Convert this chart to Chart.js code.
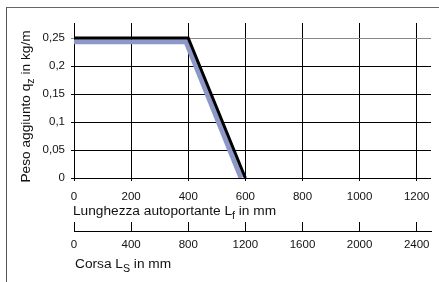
<!DOCTYPE html>
<html><head><meta charset="utf-8">
<script src="https://cdn.jsdelivr.net/npm/chart.js@4/dist/chart.umd.min.js"></script>
<style>
html,body{margin:0;padding:0;background:#fff;}
#wrap{position:relative;width:439px;height:282px;overflow:hidden;}
#frame{position:absolute;left:6px;top:7px;width:500px;height:400px;border-left:1px solid #555;border-top:1px solid #666;}
canvas{position:absolute;left:0;top:0;}
</style></head><body>
<div id="wrap"><div id="frame"></div><canvas id="c" width="439" height="282"></canvas></div>
<script>
// ---- data ----
const lfBlack = [0, 400, 600];          // Lunghezza autoportante Lf (mm)
const qBlack  = [0.25, 0.25, 0];        // Peso aggiunto qz (kg/m)
const lfBlue  = [0, 392, 585];
const qBlue   = [0.2435, 0.2435, 0];

const qTicks  = [0, 0.05, 0.1, 0.15, 0.2, 0.25];
const lfTicks = [0, 200, 400, 600, 800, 1000, 1200];
const lsTicks = [0, 400, 800, 1200, 1600, 2000, 2400];
const qTickLabels  = ['0', '0,05', '0,1', '0,15', '0,2', '0,25'];
const lfTickLabels = ['0', '200', '400', '600', '800', '1000', '1200'];
const lsTickLabels = ['0', '400', '800', '1200', '1600', '2000', '2400'];

const yTitleParts  = [['Peso aggiunto q', false], ['z', true], [' in kg/m', false]];
const x1TitleParts = [['Lunghezza autoportante L', false], ['f', true], [' in mm', false]];
const x2TitleParts = [['Corsa L', false], ['S', true], [' in mm', false]];

// ---- chart ----
const FONT = '"Liberation Sans", Arial, Helvetica, sans-serif';
Chart.defaults.font.family = FONT;
Chart.defaults.color = '#111';
const TITLE_SIZE = 13.7;
const TICK_SIZE = 11.5;

function toPts(xs, ys) { return xs.map((x, i) => ({ x: x, y: ys[i] })); }
function setTicks(values) { return (s) => { s.ticks = values.map(v => ({ value: v })); }; }

function drawParts(ctx, parts, size, x, y, align) {
  const subSize = size * 0.78;
  let total = 0;
  parts.forEach(p => {
    ctx.font = (p[1] ? subSize : size) + 'px ' + FONT;
    total += ctx.measureText(p[0]).width;
  });
  let cx = align === 'center' ? x - total / 2 : x;
  parts.forEach(p => {
    ctx.font = (p[1] ? subSize : size) + 'px ' + FONT;
    ctx.fillText(p[0], cx, p[1] ? y + size * 0.28 : y);
    cx += ctx.measureText(p[0]).width;
  });
}

const titlePlugin = {
  id: 'subTitles',
  afterDraw(chart) {
    const ctx = chart.ctx;
    const ys = chart.scales.y, x1 = chart.scales.x, x2 = chart.scales.x2;
    ctx.save();
    ctx.fillStyle = '#111';
    ctx.textBaseline = 'alphabetic';
    ctx.textAlign = 'left';
    drawParts(ctx, x1TitleParts, TITLE_SIZE, x1.left - 1, x1.top + 37, 'left');
    drawParts(ctx, x2TitleParts, TITLE_SIZE, x2.left + 1, x2.top + 37, 'left');
    ctx.translate(ys.left + 30, (chart.chartArea.top + chart.chartArea.bottom) / 2 + 6);
    ctx.rotate(-Math.PI / 2);
    drawParts(ctx, yTitleParts, TITLE_SIZE, 0, 0, 'center');
    ctx.restore();
  }
};

function noSidePad(s) { s.paddingLeft = 0; s.paddingRight = 0; }

new Chart(document.getElementById('c'), {
  type: 'line',
  data: {
    datasets: [
      { data: toPts(lfBlack, qBlack), borderColor: '#000', borderWidth: 3,
        pointRadius: 0, borderJoinStyle: 'miter', tension: 0, xAxisID: 'x', yAxisID: 'y' },
      { data: toPts(lfBlue, qBlue), borderColor: 'rgb(140,152,200)', borderWidth: 5,
        pointRadius: 0, borderJoinStyle: 'miter', tension: 0, xAxisID: 'x', yAxisID: 'y' }
    ]
  },
  options: {
    responsive: false,
    animation: false,
    events: [],
    layout: { padding: { top: 23, right: 8, left: 0, bottom: 0 } },
    plugins: { legend: { display: false }, tooltip: { enabled: false }, title: { display: false } },
    scales: {
      x: {
        type: 'linear', position: 'bottom', min: 0, max: 1250,
        afterBuildTicks: setTicks(lfTicks),
        afterFit(s) { s.height = 53; noSidePad(s); },
        ticks: { padding: 9, maxRotation: 0, autoSkip: false,
                 font: { size: TICK_SIZE }, color: '#111',
                 callback: (v, i) => lfTickLabels[i] },
        grid: { color: '#000', lineWidth: 1, drawTicks: true, tickLength: 3, tickColor: '#000' },
        border: { display: false }
      },
      x2: {
        type: 'linear', position: 'bottom', min: 0, max: 2500,
        afterBuildTicks: setTicks(lsTicks),
        afterFit(s) { s.height = 51; noSidePad(s); },
        ticks: { padding: 16, maxRotation: 0, autoSkip: false,
                 font: { size: TICK_SIZE }, color: '#111',
                 callback: (v, i) => lsTickLabels[i] },
        grid: { drawOnChartArea: false, drawTicks: true, tickLength: -9, tickColor: '#000', lineWidth: 1 },
        border: { display: true, color: '#000', width: 1 }
      },
      y: {
        type: 'linear', position: 'left', min: 0, max: 0.2768,
        afterBuildTicks: setTicks(qTicks),
        afterFit(s) { s.width = 74; },
        ticks: { padding: 6, autoSkip: false,
                 font: { size: TICK_SIZE }, color: '#111',
                 callback: (v, i) => qTickLabels[i] },
        grid: { color: (c) => (c.tick && c.tick.value === 0.25 ? '#888' : '#000'),
                lineWidth: 1, drawTicks: true, tickLength: 3 },
        border: { display: false }
      }
    }
  },
  plugins: [titlePlugin]
});
</script>
</body></html>
